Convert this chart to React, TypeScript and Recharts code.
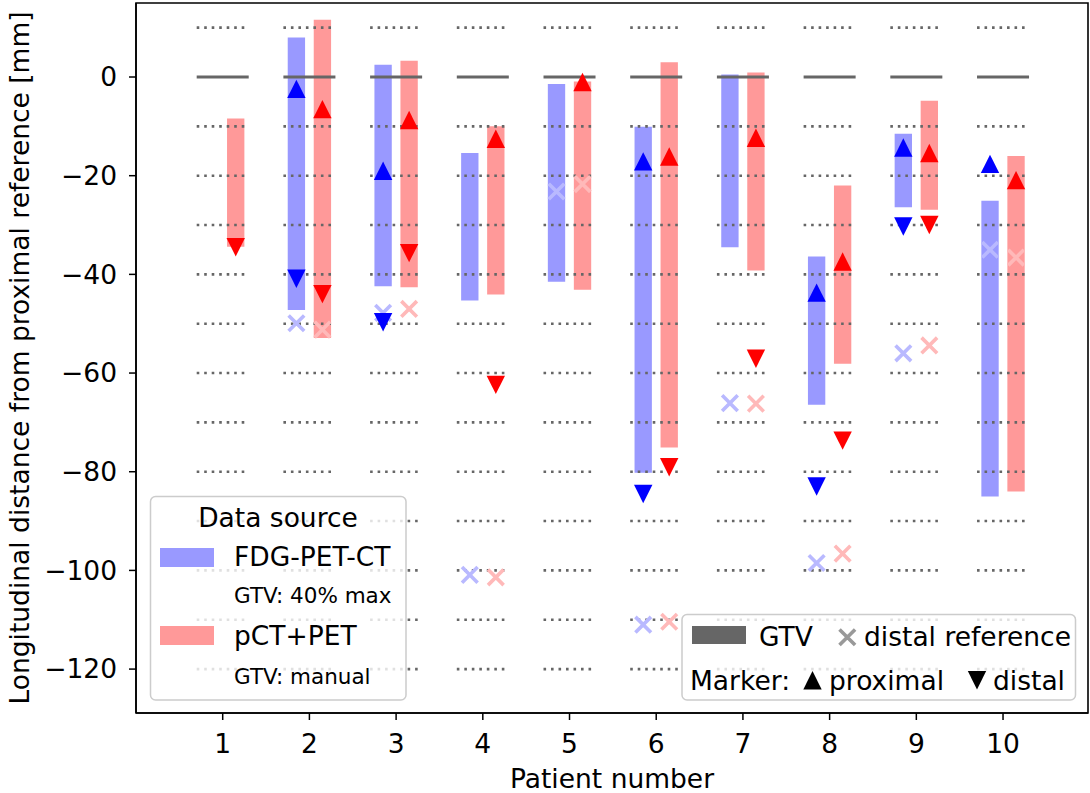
import React from "react";
import {
  ComposedChart,
  XAxis,
  YAxis,
  Scatter,
  ReferenceArea,
  ReferenceLine,
} from "recharts";

// ---------- data ----------
const patients = [1, 2, 3, 4, 5, 6, 7, 8, 9, 10];

// FDG-PET-CT (GTV: 40% max)
const fdgTop = [null, 8.0, 2.5, -15.4, -1.4, -10.1, 0.5, -36.4, -11.5, -25.1];
const fdgBottom = [null, -47.2, -42.4, -45.3, -41.5, -80.2, -34.5, -66.4, -26.4, -85.0];
const fdgProximal = [null, -2.4, -19.0, null, null, -17.1, null, -43.7, -14.3, -17.6];
const fdgDistal = [null, -40.9, -49.7, null, null, -84.5, null, -83.0, -30.3, null];
const fdgDistalRef = [null, -49.9, -47.8, -100.9, -23.2, -111.0, -66.1, -98.5, -56.0, -35.0];

// pCT+PET (GTV: manual)
const petTop = [-8.4, 11.6, 3.3, -10.0, -0.9, 3.0, 0.9, -22.0, -4.8, -16.0];
const petBottom = [-34.4, -52.9, -42.6, -44.1, -43.1, -75.1, -39.2, -58.1, -26.9, -84.0];
const petProximal = [null, -6.5, -8.7, -12.5, -1.0, -16.1, -12.3, -37.4, -15.4, -20.9];
const petDistal = [-34.5, -44.0, -35.7, -62.4, null, -79.1, -57.1, -73.7, -30.0, null];
const petDistalRef = [null, -51.2, -47.0, -101.4, -21.7, -110.4, -66.2, -96.6, -54.4, -36.6];

const gtvLevel = 0;
const guideLevels = [10, -10, -20, -30, -40, -50, -60, -70, -80, -90, -100, -110, -120];
const yTicks = [0, -20, -40, -60, -80, -100, -120];
const xDomain = [0, 10.98];
const yDomain = [-128.9, 15.0];

// ---------- styles ----------
const FONT = "'DejaVu Sans', sans-serif";
const FS = 26.5;
const FS_SMALL = 21.5;
const BLUE_BAR = "#9999ff";
const RED_BAR = "#ff9999";
const BLUE = "#0000ff";
const RED = "#ff0000";
const BLUE_X = "#b9b9ff";
const RED_X = "#ffb9b9";
const OFF = 0.15;
const HALF_BAR = 0.1;
const HALF_GUIDE = 0.3;

type Pt = { x: number; y: number };
const toPoints = (vals: (number | null)[], off: number): Pt[] =>
  patients
    .map((p, i) => (vals[i] == null ? null : { x: p + off, y: vals[i] as number }))
    .filter((d): d is Pt => d !== null);

const triUp = (color: string) => (props: any) => {
  const { cx, cy } = props;
  const h = 9.2;
  return <path d={`M${cx},${cy - h}L${cx + h},${cy + h}L${cx - h},${cy + h}Z`} fill={color} />;
};
const triDown = (color: string) => (props: any) => {
  const { cx, cy } = props;
  const h = 9.2;
  return <path d={`M${cx},${cy + h}L${cx + h},${cy - h}L${cx - h},${cy - h}Z`} fill={color} />;
};
const cross = (color: string) => (props: any) => {
  const { cx, cy } = props;
  const h = 7.8;
  return (
    <path
      d={`M${cx - h},${cy - h}L${cx + h},${cy + h}M${cx - h},${cy + h}L${cx + h},${cy - h}`}
      stroke={color}
      strokeWidth={3.6}
      fill="none"
    />
  );
};

const fmtY = (v: number) => (v < 0 ? "\u2212" + Math.abs(v) : String(v));

export default function App() {
  return (
    <div style={{ position: "absolute", left: 0, top: 0, width: 1090, height: 793, background: "#fff" }}>
      <ComposedChart
        width={1090}
        height={793}
        margin={{ top: 3, right: 2, bottom: 0, left: 0 }}
        style={{ fontFamily: FONT }}
      >
        <XAxis
          type="number"
          dataKey="x"
          domain={xDomain}
          ticks={patients}
          allowDataOverflow
          height={80}
          tickSize={7}
          tickMargin={14}
          tickLine={{ stroke: "#000", strokeWidth: 1.5 }}
          axisLine={{ stroke: "#000", strokeWidth: 1.5 }}
          tick={{ fill: "#000", fontSize: FS, fontFamily: FONT }}
          interval={0}
          label={{
            content: (p: any) => {
              const vb = p.viewBox;
              return (
                <text x={vb.x + vb.width / 2} y={788} textAnchor="middle" fontSize={FS} fontFamily={FONT} fill="#000">
                  Patient number
                </text>
              );
            },
          }}
        />
        <YAxis
          type="number"
          dataKey="y"
          domain={yDomain}
          ticks={yTicks}
          allowDataOverflow
          width={136}
          tickSize={7}
          tickMargin={12}
          tickFormatter={fmtY}
          tickLine={{ stroke: "#000", strokeWidth: 1.5 }}
          axisLine={{ stroke: "#000", strokeWidth: 1.5 }}
          tick={{ fill: "#000", fontSize: FS, fontFamily: FONT }}
          interval={0}
          label={{
            content: (p: any) => {
              const vb = p.viewBox;
              const cy = vb.y + vb.height / 2;
              return (
                <text
                  x={29}
                  y={cy}
                  transform={`rotate(-90, 29, ${cy})`}
                  textAnchor="middle"
                  fontSize={FS}
                  fontFamily={FONT}
                  fill="#000"
                >
                  Longitudinal distance from proximal reference [mm]
                </text>
              );
            },
          }}
        />

        {/* dotted guide lines */}
        {patients.map((p) =>
          guideLevels.map((lv) => (
            <ReferenceLine
              key={`g${p}_${lv}`}
              segment={[
                { x: p - HALF_GUIDE, y: lv },
                { x: p + HALF_GUIDE, y: lv },
              ]}
              stroke="#666"
              strokeWidth={2.6}
              strokeDasharray="2.6 4.9"
            />
          ))
        )}

        {/* FDG-PET-CT extent bars */}
        {patients.map((p, i) =>
          fdgTop[i] == null ? null : (
            <ReferenceArea
              key={`fb${p}`}
              x1={p - OFF - HALF_BAR}
              x2={p - OFF + HALF_BAR}
              y1={fdgBottom[i] as number}
              y2={fdgTop[i] as number}
              fill={BLUE_BAR}
              fillOpacity={1}
              stroke="none"
            />
          )
        )}
        {/* pCT+PET extent bars */}
        {patients.map((p, i) => (
          <ReferenceArea
            key={`pb${p}`}
            x1={p + OFF - HALF_BAR}
            x2={p + OFF + HALF_BAR}
            y1={petBottom[i]}
            y2={petTop[i]}
            fill={RED_BAR}
            fillOpacity={1}
            stroke="none"
          />
        ))}

        {/* GTV reference (0) */}
        {patients.map((p) => (
          <ReferenceLine
            key={`z${p}`}
            segment={[
              { x: p - HALF_GUIDE, y: gtvLevel },
              { x: p + HALF_GUIDE, y: gtvLevel },
            ]}
            stroke="#666"
            strokeWidth={2.8}
          />
        ))}

        {/* frame */}
        <ReferenceArea
          x1={xDomain[0]}
          x2={xDomain[1]}
          y1={yDomain[0]}
          y2={yDomain[1]}
          fill="none"
          stroke="#000"
          strokeWidth={1.6}
          ifOverflow="visible"
        />

        <Scatter data={toPoints(fdgDistalRef, -OFF)} dataKey="y" shape={cross(BLUE_X)} isAnimationActive={false} />
        <Scatter data={toPoints(petDistalRef, OFF)} dataKey="y" shape={cross(RED_X)} isAnimationActive={false} />
        <Scatter data={toPoints(fdgProximal, -OFF)} dataKey="y" shape={triUp(BLUE)} isAnimationActive={false} />
        <Scatter data={toPoints(fdgDistal, -OFF)} dataKey="y" shape={triDown(BLUE)} isAnimationActive={false} />
        <Scatter data={toPoints(petProximal, OFF)} dataKey="y" shape={triUp(RED)} isAnimationActive={false} />
        <Scatter data={toPoints(petDistal, OFF)} dataKey="y" shape={triDown(RED)} isAnimationActive={false} />
      </ComposedChart>

      {/* legends */}
      <svg
        width={1090}
        height={793}
        style={{ position: "absolute", left: 0, top: 0, pointerEvents: "none" }}
        fontFamily={FONT}
      >
        <rect x={150.5} y={496.5} width={255.5} height={203.5} rx={5} fill="#fff" fillOpacity={0.8} stroke="#cccccc" strokeWidth={1.5} />
        <text x={278} y={527} textAnchor="middle" fontSize={FS} fill="#000">Data source</text>
        <rect x={160} y={548} width={54} height={19} fill={BLUE_BAR} />
        <text x={234} y={566} fontSize={FS} fill="#000">FDG-PET-CT</text>
        <text x={234} y={603} fontSize={FS_SMALL} fill="#000">GTV: 40% max</text>
        <rect x={160} y={626} width={54} height={19} fill={RED_BAR} />
        <text x={234} y={645} fontSize={FS} fill="#000">pCT+PET</text>
        <text x={234} y={684} fontSize={FS_SMALL} fill="#000">GTV: manual</text>

        <rect x={682} y={614.5} width={393.5} height={85.5} rx={5} fill="#fff" fillOpacity={0.8} stroke="#cccccc" strokeWidth={1.5} />
        <rect x={692} y={626} width={54} height={18} fill="#666" />
        <text x={759} y={646} fontSize={FS} fill="#000">GTV</text>
        <path d="M839.5,629.5L855.1,645.1M839.5,645.1L855.1,629.5" stroke="#999" strokeWidth={3.6} fill="none" />
        <text x={864} y={646} fontSize={FS} fill="#000">distal reference</text>
        <text x={690} y={690} fontSize={FS} fill="#000">Marker:</text>
        <path d="M812.5,671L821.7,689.4L803.3,689.4Z" fill="#000" />
        <text x={829} y={690} fontSize={FS} fill="#000">proximal</text>
        <path d="M977,689.4L986.2,671L967.8,671Z" fill="#000" />
        <text x={993} y={690} fontSize={FS} fill="#000">distal</text>
      </svg>
    </div>
  );
}
